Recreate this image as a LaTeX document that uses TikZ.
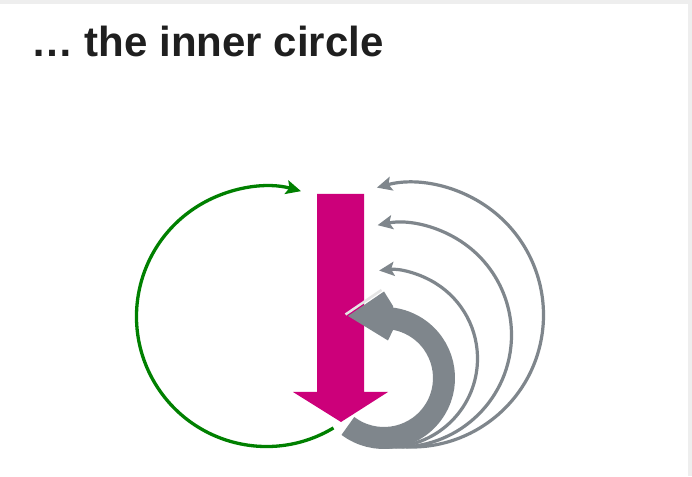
\documentclass[tikz,border=0pt]{standalone}
\usepackage{fontspec}
\setmainfont{Liberation Sans}
\usetikzlibrary{arrows.meta}
\definecolor{grn}{HTML}{008000}
\definecolor{mag}{HTML}{CC007A}
\definecolor{gry}{HTML}{7F868C}
\definecolor{framec}{HTML}{EEEEEE}
\definecolor{ttl}{HTML}{1F1F1F}
\begin{document}
\begin{tikzpicture}[x=1pt,y=1pt,
  loophead/.style={-{Stealth[length=15pt,width=14pt,inset=3pt]}},
  greenarc/.style={draw=grn, line width=3.3pt, loophead},
  thinarc/.style={draw=gry, line width=3.2pt, loophead},
  bandarc/.style={draw=gry, line width=22pt, line cap=butt},
  titletext/.style={anchor=base west, inner sep=0pt, text=ttl,
    font=\bfseries\fontsize{42}{50}\selectfont}]
\useasboundingbox (0,0) rectangle (692,476);
\fill[framec] (0,0) rectangle (692,476);
\fill[white] (0,0) rectangle (688,472);
\node[titletext] (title) at (31,419) {… the inner circle};
% centres
\coordinate (cg) at (266.5,159.5);
\coordinate (c1) at (411.5,161);
\coordinate (c2) at (399.5,141);
\coordinate (c3) at (389,117.5);
\coordinate (cb) at (384,98);
% green loop
\draw[greenarc] (cg) ++(-59:130) arc[start angle=-59, end angle=-285.4, radius=130];
% thin grey loops
\draw[thinarc] (c1) ++(262:132) arc[start angle=262, end angle=465.2, radius=132];
\draw[thinarc] (c2) ++(264:112) arc[start angle=264, end angle=461.3, radius=112];
\draw[thinarc] (c3) ++(268:88.5) arc[start angle=268, end angle=456.4, radius=88.5];
% magenta arrow
\fill[mag] (317,282) -- (364,282) -- (364,84) -- (388,84) -- (341,54) -- (293,84) -- (317,84) -- cycle;
% thick grey U-turn
\draw[bandarc] (cb) ++(233:60) arc[start angle=233, end angle=444.3, radius=60];
\draw[gray!20, line width=2.5pt] (345.5,161.5) -- (381.5,186);
\fill[gry] (348,160) -- (384,184.5) -- (393,170) -- (393,146) -- (388,135.5) -- cycle;
\end{tikzpicture}
\end{document}
